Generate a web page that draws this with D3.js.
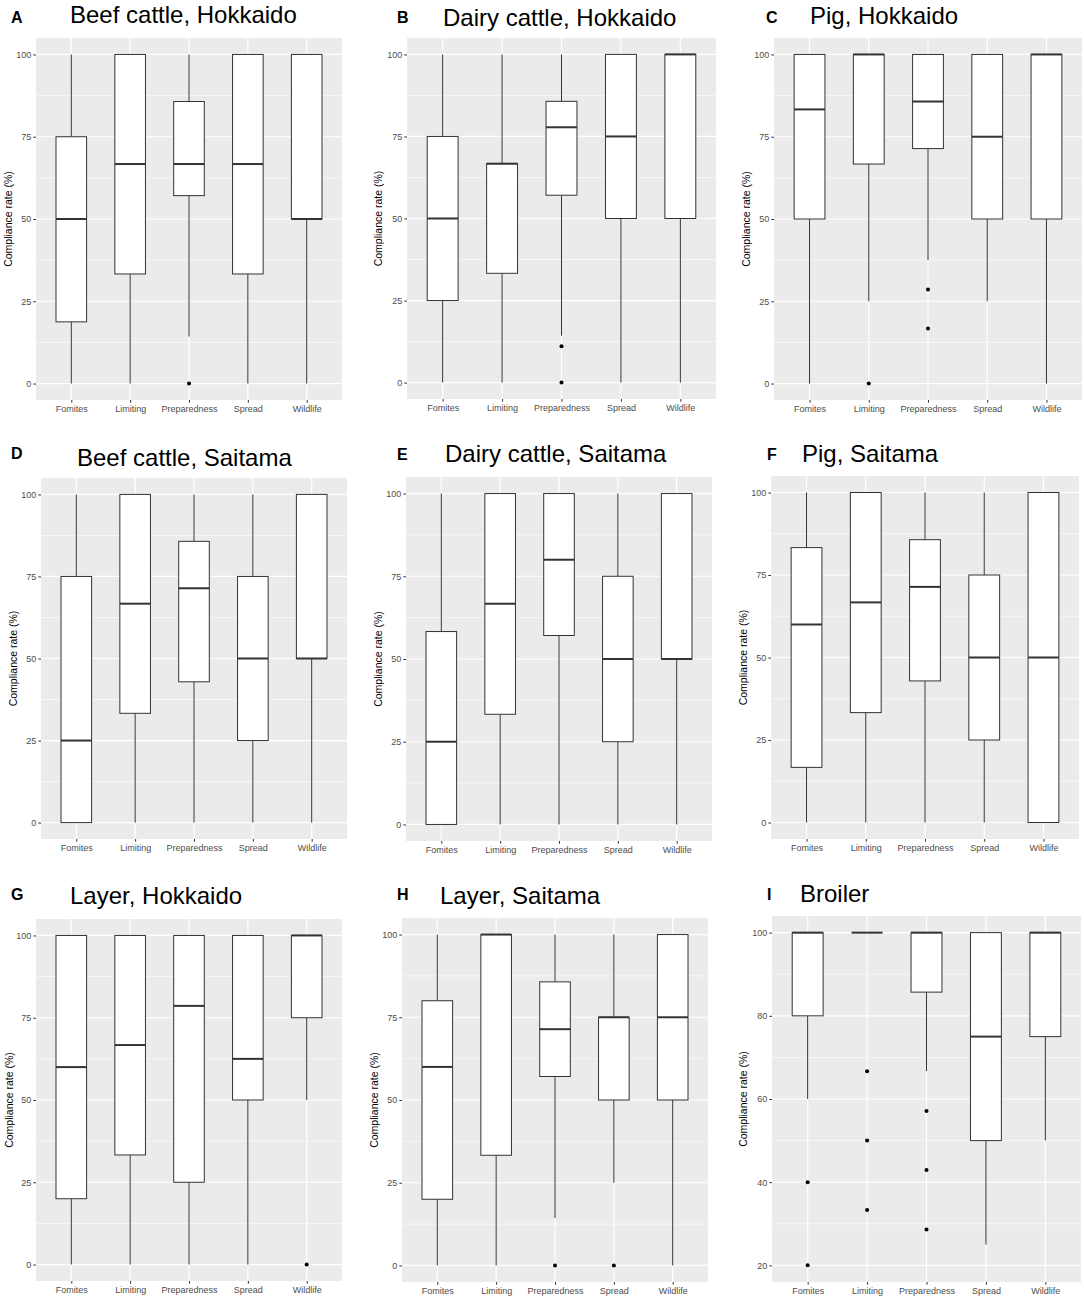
<!DOCTYPE html>
<html lang="en">

<head>
    <meta charset="UTF-8">
    <title>Compliance rate by category - boxplots</title>
    <script src="https://d3js.org/d3.v7.min.js"></script>
    <style>
        body {
            margin: 0;
            background: #ffffff;
            font-family: "Liberation Sans", Arial, sans-serif;
        }

        .panel_title {
            font-size: 24px;
            fill: #000000;
        }

        .panel_letter {
            font-size: 16px;
            font-weight: bold;
            fill: #000000;
        }

        .axis_title {
            font-size: 10.5px;
            fill: #000000;
        }

        .tick_label {
            font-size: 9px;
            fill: #4d4d4d;
        }
    </style>
</head>

<body>
    <svg id="svg_main" width="1084" height="1299"></svg>
    <script>

        // categories on the x axis (same for every panel)
        let categories = ["Fomites", "Limiting", "Preparedness", "Spread", "Wildlife"]

        let panelLetters = ["A", "B", "C", "D", "E", "F", "G", "H", "I"]
        let panelTitles = [
            "Beef cattle, Hokkaido", "Dairy cattle, Hokkaido", "Pig, Hokkaido",
            "Beef cattle, Saitama", "Dairy cattle, Saitama", "Pig, Saitama",
            "Layer, Hokkaido", "Layer, Saitama", "Broiler"
        ]

        // box stats per category: [lower whisker, q1, median, q3, upper whisker]
        let statsA = [[0, 18.75, 50, 75, 100], [0, 33.3, 66.7, 100, 100], [14.3, 57.1, 66.7, 85.7, 100], [0, 33.3, 66.7, 100, 100], [0, 50, 50, 100, 100]]
        let statsB = [[0, 25, 50, 75, 100], [0, 33.3, 66.7, 66.7, 100], [14.3, 57.1, 77.8, 85.7, 100], [0, 50, 75, 100, 100], [0, 50, 100, 100, 100]]
        let statsC = [[0, 50, 83.3, 100, 100], [25, 66.7, 100, 100, 100], [37.5, 71.4, 85.7, 100, 100], [25, 50, 75, 100, 100], [0, 50, 100, 100, 100]]
        let statsD = [[0, 0, 25, 75, 100], [0, 33.3, 66.7, 100, 100], [0, 42.9, 71.4, 85.7, 100], [0, 25, 50, 75, 100], [0, 50, 50, 100, 100]]
        let statsE = [[0, 0, 25, 58.3, 100], [0, 33.3, 66.7, 100, 100], [0, 57.1, 80, 100, 100], [0, 25, 50, 75, 100], [0, 50, 50, 100, 100]]
        let statsF = [[0, 16.7, 60, 83.3, 100], [0, 33.3, 66.7, 100, 100], [0, 42.9, 71.4, 85.7, 100], [0, 25, 50, 75, 100], [0, 0, 50, 100, 100]]
        let statsG = [[0, 20, 60, 100, 100], [0, 33.3, 66.7, 100, 100], [0, 25, 78.6, 100, 100], [0, 50, 62.5, 100, 100], [50, 75, 100, 100, 100]]
        let statsH = [[0, 20, 60, 80, 100], [0, 33.3, 100, 100, 100], [14.3, 57.1, 71.4, 85.7, 100], [25, 50, 75, 75, 100], [0, 50, 75, 100, 100]]
        let statsI = [[60, 80, 100, 100, 100], [100, 100, 100, 100, 100], [66.7, 85.7, 100, 100, 100], [25, 50, 75, 100, 100], [50, 75, 100, 100, 100]]

        // outlier points per category
        let outliersA = [[], [], [0], [], []]
        let outliersB = [[], [], [11.1, 0], [], []]
        let outliersC = [[], [0], [28.6, 16.7], [], []]
        let outliersD = [[], [], [], [], []]
        let outliersE = [[], [], [], [], []]
        let outliersF = [[], [], [], [], []]
        let outliersG = [[], [], [], [], [0]]
        let outliersH = [[], [], [0], [0], []]
        let outliersI = [[40, 20], [66.7, 50, 33.3], [57.1, 42.9, 28.6], [], []]

        // y axis ticks and limits
        let yTicksPct = [0, 25, 50, 75, 100]
        let yTicksBroiler = [20, 40, 60, 80, 100]
        let yDomainPct = [-5, 105]
        let yDomainBroiler = [16, 104]

        let allStats = [statsA, statsB, statsC, statsD, statsE, statsF, statsG, statsH, statsI]
        let allOutliers = [outliersA, outliersB, outliersC, outliersD, outliersE, outliersF, outliersG, outliersH, outliersI]

        // panel layout (grey plotting area, title and letter positions)
        let layout = [
            { x0: 36, x1: 342, y0: 38, y1: 400, titleX: 70, titleY: 23, letterX: 11, letterY: 23, yTitleX: 12 },
            { x0: 407, x1: 716, y0: 38, y1: 399, titleX: 443, titleY: 26, letterX: 397, letterY: 23, yTitleX: 382 },
            { x0: 774, x1: 1082, y0: 38, y1: 400, titleX: 810, titleY: 24, letterX: 766, letterY: 23, yTitleX: 750 },
            { x0: 41, x1: 347, y0: 478, y1: 839, titleX: 77, titleY: 466, letterX: 11, letterY: 459, yTitleX: 17 },
            { x0: 406, x1: 712, y0: 477, y1: 841, titleX: 445, titleY: 462, letterX: 397, letterY: 460, yTitleX: 382 },
            { x0: 771, x1: 1079, y0: 476, y1: 839, titleX: 802, titleY: 462, letterX: 767, letterY: 460, yTitleX: 747 },
            { x0: 36, x1: 342, y0: 919, y1: 1281, titleX: 70, titleY: 904, letterX: 11, letterY: 900, yTitleX: 13 },
            { x0: 402, x1: 708, y0: 918, y1: 1282, titleX: 440, titleY: 904, letterX: 397, letterY: 900, yTitleX: 378 },
            { x0: 772, x1: 1081, y0: 916, y1: 1282, titleX: 800, titleY: 902, letterX: 767, letterY: 900, yTitleX: 747 }
        ]

        let svg = d3.select("#svg_main")
        let boxStroke = "#333333"

        function drawPanel(i) {
            let L = layout[i]
            let stats = allStats[i]
            let outliers = allOutliers[i]
            let isBroiler = i === 8
            let ticks = isBroiler ? yTicksBroiler : yTicksPct

            let g = svg.append("g").attr("class", "panel_" + panelLetters[i])

            let x = d3.scalePoint()
                .domain(categories)
                .range([L.x0, L.x1])
                .padding(0.6)
            let step = x.step()
            let boxW = step * 0.52

            let y = d3.scaleLinear()
                .domain(isBroiler ? yDomainBroiler : yDomainPct)
                .range([L.y1, L.y0])

            // grey background
            g.append("rect")
                .attr("x", L.x0).attr("y", L.y0)
                .attr("width", L.x1 - L.x0).attr("height", L.y1 - L.y0)
                .attr("fill", "#ebebeb")

            // minor grid (midpoints between major ticks)
            let minors = d3.pairs(ticks).map(p => (p[0] + p[1]) / 2)
            g.selectAll(".minor").data(minors).enter().append("line")
                .attr("x1", L.x0).attr("x2", L.x1)
                .attr("y1", d => y(d)).attr("y2", d => y(d))
                .attr("stroke", "#ffffff").attr("stroke-width", 0.6)

            // major grid
            g.selectAll(".hmajor").data(ticks).enter().append("line")
                .attr("x1", L.x0).attr("x2", L.x1)
                .attr("y1", d => y(d)).attr("y2", d => y(d))
                .attr("stroke", "#ffffff").attr("stroke-width", 1.2)
            g.selectAll(".vmajor").data(categories).enter().append("line")
                .attr("y1", L.y0).attr("y2", L.y1)
                .attr("x1", d => x(d)).attr("x2", d => x(d))
                .attr("stroke", "#ffffff").attr("stroke-width", 1.2)

            // axes with ggplot-like ticks
            let yAxis = d3.axisLeft(y).tickValues(ticks).tickSize(2.7).tickPadding(2)
            let gy = g.append("g").attr("transform", "translate(" + L.x0 + ",0)").call(yAxis)
            let xAxis = d3.axisBottom(x).tickSize(2.7).tickPadding(3)
            let gx = g.append("g").attr("transform", "translate(0," + L.y1 + ")").call(xAxis)
            ;[gx, gy].forEach(a => {
                a.select(".domain").remove()
                a.selectAll(".tick line").attr("stroke", boxStroke)
                a.selectAll(".tick text").attr("class", "tick_label")
                    .attr("font-family", null).attr("font-size", null).attr("fill", null)
            })
            gx.attr("font-family", null).attr("font-size", null)
            gy.attr("font-family", null).attr("font-size", null)

            // boxplots
            let boxes = g.selectAll(".box").data(stats).enter().append("g")
                .attr("transform", (d, k) => "translate(" + x(categories[k]) + ",0)")

            boxes.append("line")   // lower whisker
                .attr("x1", 0).attr("x2", 0)
                .attr("y1", d => y(d[0])).attr("y2", d => y(d[1]))
                .attr("stroke", boxStroke).attr("stroke-width", 1)
            boxes.append("line")   // upper whisker
                .attr("x1", 0).attr("x2", 0)
                .attr("y1", d => y(d[3])).attr("y2", d => y(d[4]))
                .attr("stroke", boxStroke).attr("stroke-width", 1)
            boxes.append("rect")
                .attr("x", -boxW / 2).attr("width", boxW)
                .attr("y", d => y(d[3])).attr("height", d => y(d[1]) - y(d[3]))
                .attr("fill", "#ffffff")
                .attr("stroke", boxStroke).attr("stroke-width", 1)
            boxes.append("line")   // median
                .attr("x1", -boxW / 2).attr("x2", boxW / 2)
                .attr("y1", d => y(d[2])).attr("y2", d => y(d[2]))
                .attr("stroke", boxStroke).attr("stroke-width", 2)

            // outliers
            outliers.forEach((pts, k) => {
                g.selectAll(".out_" + k).data(pts).enter().append("circle")
                    .attr("cx", x(categories[k]))
                    .attr("cy", d => y(d))
                    .attr("r", 2)
                    .attr("fill", "#000000")
            })

            // y axis title
            g.append("text")
                .attr("class", "axis_title")
                .attr("transform", "translate(" + L.yTitleX + "," + (L.y0 + L.y1) / 2 + ") rotate(-90)")
                .attr("text-anchor", "middle")
                .text("Compliance rate (%)")

            // panel letter and title
            g.append("text").attr("class", "panel_letter")
                .attr("x", L.letterX).attr("y", L.letterY)
                .text(panelLetters[i])
            g.append("text").attr("class", "panel_title")
                .attr("x", L.titleX).attr("y", L.titleY)
                .text(panelTitles[i])
        }

        for (let i = 0; i < panelTitles.length; i++) {
            drawPanel(i)
        }

    </script>
</body>

</html>
